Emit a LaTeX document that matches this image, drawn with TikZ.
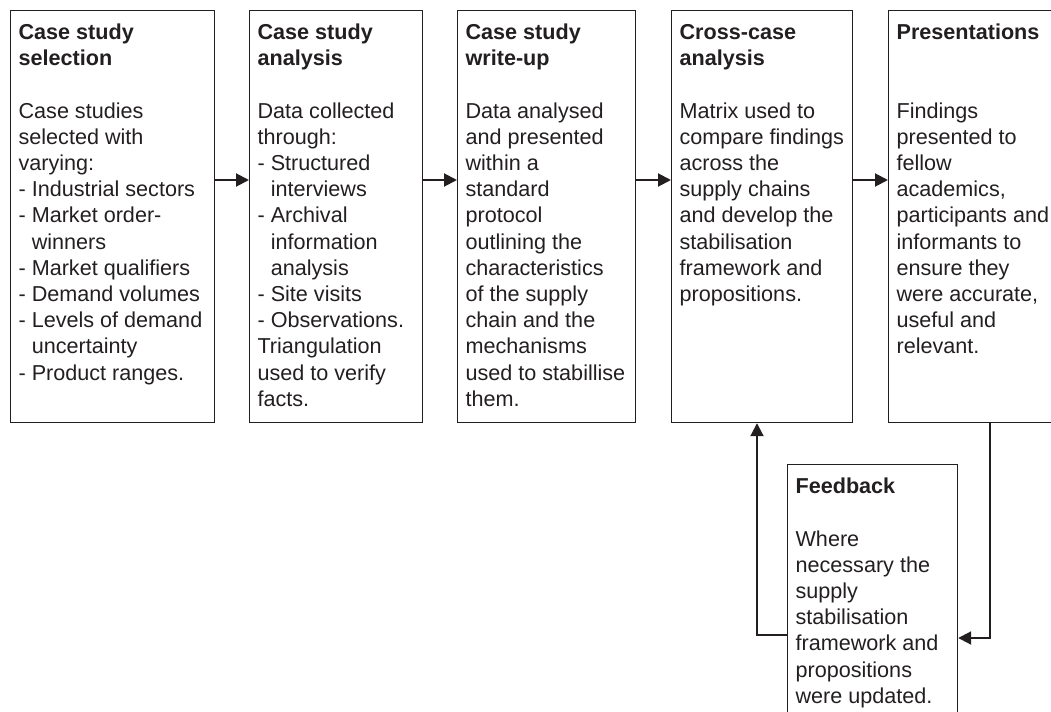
\documentclass[tikz,border=0pt]{standalone}
\usepackage{fontspec}
\setmainfont{Liberation Sans}
\usetikzlibrary{arrows.meta}
\definecolor{ink}{RGB}{35,31,32}

\begin{document}
\begin{tikzpicture}[x=0.5pt, y=-0.5pt,
  stage/.style={draw=ink, line width=0.6pt, anchor=north west, inner xsep=4pt, inner ysep=0pt,
    text=ink, font=\fontsize{10.8pt}{13.1pt}\selectfont},
  flow/.style={draw=ink, line width=1pt, -{Triangle[length=6.5pt, width=6.5pt]}}]
\useasboundingbox (0,0) rectangle (1051,712);
\clip (0,0) rectangle (1051,712);

% stages
\node[stage] (sel) at (10,10) {\parbox[t][206pt][t]{94pt}{\raggedright\rule{0pt}{14.5pt}%
\textbf{Case study}\\ \textbf{selection}\\[13.1pt]
Case studies\\ selected with\\ varying:\\ - Industrial sectors\\ - Market order-\\
\phantom{- }winners\\ - Market qualifiers\\ - Demand volumes\\ - Levels of demand\\
\phantom{- }uncertainty\\ - Product ranges.}};
\node[stage] (ana) at (249,10) {\parbox[t][206pt][t]{78.5pt}{\raggedright\rule{0pt}{14.5pt}%
\textbf{Case study}\\ \textbf{analysis}\\[13.1pt]
Data collected\\ through:\\ - Structured\\ \phantom{- }interviews\\ - Archival\\
\phantom{- }information\\ \phantom{- }analysis\\ - Site visits\\ - Observations.\\
Triangulation\\ used to verify\\ facts.}};
\node[stage] (wri) at (457,10) {\parbox[t][206pt][t]{81pt}{\raggedright\rule{0pt}{14.5pt}%
\textbf{Case study}\\ \textbf{write-up}\\[13.1pt]
Data analysed\\ and presented\\ within a\\ standard\\ protocol\\ outlining the\\
characteristics\\ of the supply\\ chain and the\\ mechanisms\\ used to stabillise\\ them.}};
\node[stage] (cross) at (671,10) {\parbox[t][206pt][t]{82.5pt}{\raggedright\rule{0pt}{14.5pt}%
\textbf{Cross-case}\\ \textbf{analysis}\\[13.1pt]
Matrix used to\\ compare findings\\ across the\\ supply chains\\ and develop the\\
stabilisation\\ framework and\\ propositions.}};
\node[stage] (pres) at (888,10) {\parbox[t][206pt][t]{83pt}{\raggedright\rule{0pt}{14.5pt}%
\textbf{Presentations}\\[26.2pt]
Findings\\ presented to\\ fellow\\ academics,\\ participants and\\ informants to\\
ensure they\\ were accurate,\\ useful and\\ relevant.}};
\node[stage] (feed) at (787,464) {\parbox[t][133pt][t]{77pt}{\raggedright\rule{0pt}{14.5pt}%
\textbf{Feedback}\\[13.1pt]
Where\\ necessary the\\ supply\\ stabilisation\\ framework and\\ propositions\\ were updated.}};

% arrows
\draw[flow] ([yshift=-85pt]sel.north east) -- ([yshift=-85pt]ana.north west);
\draw[flow] ([yshift=-85pt]ana.north east) -- ([yshift=-85pt]wri.north west);
\draw[flow] ([yshift=-85pt]wri.north east) -- ([yshift=-85pt]cross.north west);
\draw[flow] ([yshift=-85pt]cross.north east) -- ([yshift=-85pt]pres.north west);
\draw[flow] ([xshift=51pt]pres.south west) |- ([yshift=-87pt]feed.north east);
\draw[flow] ([yshift=-85.5pt]feed.north west) -| ([xshift=43pt]cross.south west);
\end{tikzpicture}
\end{document}
